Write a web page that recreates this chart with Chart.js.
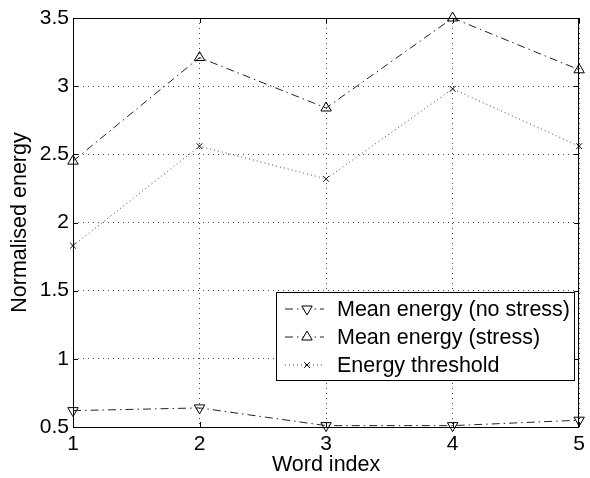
<!DOCTYPE html>
<html>
<head>
<meta charset="utf-8">
<script src="https://cdn.jsdelivr.net/npm/chart.js@4/dist/chart.umd.min.js"></script>
<style>
  html, body { margin: 0; padding: 0; background: #fff; }
  canvas { display: block; }
</style>
</head>
<body>
<canvas id="grafica" width="590" height="478"></canvas>
<script>
// datos
const wordIndex = [1, 2, 3, 4, 5];
const noStress = [0.62, 0.64, 0.51, 0.51, 0.55];
const stress = [2.45, 3.21, 2.84, 3.50, 3.12];
const threshold = [1.83, 2.56, 2.32, 2.98, 2.56];
const seriesLabels = ['Mean energy (no stress)', 'Mean energy (stress)', 'Energy threshold'];
const yTicks = [0.5, 1, 1.5, 2, 2.5, 3, 3.5];

const fuente = 'Liberation Sans, Arial, Helvetica, sans-serif';

function puntos(valores) {
    return wordIndex.map((x, i) => ({ x: x, y: valores[i] }));
}

// marco negro alrededor del area, marcas hacia dentro y leyenda estilo matlab
const marcoYLeyenda = {
    id: 'marcoYLeyenda',
    afterDraw(chart) {
        const ctx = chart.ctx;
        const a = chart.chartArea;
        const sx = chart.scales.x, sy = chart.scales.y;
        ctx.save();
        ctx.strokeStyle = '#000';
        ctx.lineWidth = 1;
        ctx.setLineDash([]);
        ctx.strokeRect(Math.round(a.left) + 0.5, Math.round(a.top) + 0.5,
            Math.round(a.right - a.left) - 1, Math.round(a.bottom - a.top));

        // marcas de los ejes (hacia dentro)
        ctx.beginPath();
        wordIndex.forEach(v => {
            const px = Math.round(sx.getPixelForValue(v)) + 0.5;
            ctx.moveTo(px, a.bottom); ctx.lineTo(px, a.bottom - 5);
            ctx.moveTo(px, a.top); ctx.lineTo(px, a.top + 5);
        });
        yTicks.forEach(v => {
            const py = Math.round(sy.getPixelForValue(v)) + 0.5;
            ctx.moveTo(a.left, py); ctx.lineTo(a.left + 5, py);
            ctx.moveTo(a.right, py); ctx.lineTo(a.right - 5, py);
        });
        ctx.stroke();

        // leyenda
        const bx = 276.5, by = 292.5, bw = 298, bh = 88;
        ctx.fillStyle = '#fff';
        ctx.fillRect(bx, by, bw, bh);
        ctx.strokeRect(bx, by, bw, bh);
        ctx.font = '21.5px ' + fuente;
        ctx.textBaseline = 'middle';
        chart.data.datasets.forEach((ds, i) => {
            const cy = 309 + i * 28;
            ctx.strokeStyle = ds.borderColor;
            ctx.lineWidth = 1;
            ctx.setLineDash(ds.borderDash);
            ctx.beginPath();
            ctx.moveTo(285, cy);
            ctx.lineTo(324, cy);
            ctx.stroke();
            ctx.setLineDash([]);
            dibujarMarcador(ctx, ds.pointStyle, ds.rotation, 307, cy, ds.pointRadius);
            ctx.fillStyle = '#000';
            ctx.fillText(ds.label, 337, cy + 1);
        });
        ctx.restore();
    }
};

function dibujarMarcador(ctx, estilo, rot, x, y, r) {
    ctx.save();
    ctx.translate(x, y);
    ctx.rotate((rot || 0) * Math.PI / 180);
    ctx.strokeStyle = '#000';
    ctx.fillStyle = '#fff';
    ctx.beginPath();
    if (estilo === 'triangle') {
        ctx.moveTo(0, -r);
        ctx.lineTo(r * 0.866, r * 0.5);
        ctx.lineTo(-r * 0.866, r * 0.5);
        ctx.closePath();
        ctx.fill();
        ctx.stroke();
    } else {
        ctx.moveTo(-r * 0.7, -r * 0.7);
        ctx.lineTo(r * 0.7, r * 0.7);
        ctx.moveTo(r * 0.7, -r * 0.7);
        ctx.lineTo(-r * 0.7, r * 0.7);
        ctx.stroke();
    }
    ctx.restore();
}

const ctx = document.getElementById('grafica').getContext('2d');

new Chart(ctx, {
    type: 'line',
    data: {
        datasets: [
            {
                label: seriesLabels[0],
                data: puntos(noStress),
                borderColor: '#222',
                borderWidth: 1,
                borderDash: [8, 4, 1.5, 4],
                pointStyle: 'triangle',
                rotation: 180,
                pointRadius: 6,
                pointBackgroundColor: 'rgba(255,255,255,0)',
                pointBorderColor: '#000',
                pointBorderWidth: 1
            },
            {
                label: seriesLabels[1],
                data: puntos(stress),
                borderColor: '#222',
                borderWidth: 1,
                borderDash: [8, 4, 1.5, 4],
                pointStyle: 'triangle',
                rotation: 0,
                pointRadius: 6,
                pointBackgroundColor: 'rgba(255,255,255,0)',
                pointBorderColor: '#000',
                pointBorderWidth: 1
            },
            {
                label: seriesLabels[2],
                data: puntos(threshold),
                borderColor: '#444',
                borderWidth: 1,
                borderDash: [1, 3],
                pointStyle: 'crossRot',
                rotation: 0,
                pointRadius: 4,
                pointBorderColor: '#000',
                pointBorderWidth: 1
            }
        ]
    },
    options: {
        responsive: false,
        animation: false,
        clip: false,
        layout: { padding: { top: 18, right: 2, left: 0, bottom: 0 } },
        plugins: {
            legend: { display: false },
            tooltip: { enabled: false }
        },
        scales: {
            x: {
                type: 'linear',
                min: 1,
                max: 5,
                afterBuildTicks: (scale) => { scale.ticks = wordIndex.map(v => ({ value: v })); },
                afterFit: (scale) => { scale.height = 51; },
                ticks: {
                    color: '#000',
                    padding: 5,
                    maxRotation: 0,
                    font: { family: fuente, size: 21 }
                },
                grid: { color: '#444', lineWidth: 1, drawTicks: false },
                border: { display: false, dash: [1, 4] },
                title: {
                    display: true,
                    text: 'Word index',
                    color: '#000',
                    padding: { top: 0, bottom: 0 },
                    font: { family: fuente, size: 21.5 }
                }
            },
            y: {
                min: 0.5,
                max: 3.5,
                afterBuildTicks: (scale) => { scale.ticks = yTicks.map(v => ({ value: v })); },
                afterFit: (scale) => { scale.width = 73; },
                ticks: {
                    color: '#000',
                    padding: 4,
                    font: { family: fuente, size: 21 },
                    callback: (v) => String(v)
                },
                grid: { color: '#444', lineWidth: 1, drawTicks: false },
                border: { display: false, dash: [1, 4] },
                title: {
                    display: true,
                    text: 'Normalised energy',
                    color: '#000',
                    padding: { top: 7, bottom: 0 },
                    font: { family: fuente, size: 21.5 }
                }
            }
        }
    },
    plugins: [marcoYLeyenda]
});
</script>
</body>
</html>
